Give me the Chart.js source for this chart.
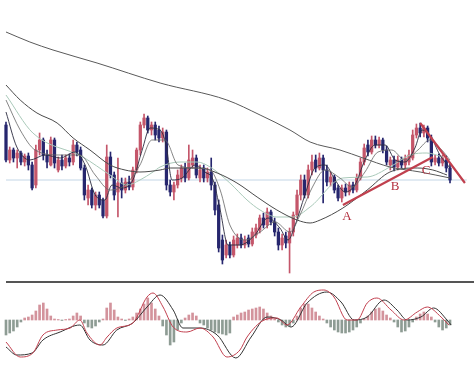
<!DOCTYPE html>
<html>
<head>
<meta charset="utf-8">
<script src="https://cdn.jsdelivr.net/npm/chart.js@4.4.0/dist/chart.umd.min.js"></script>
<style>
body{margin:0;background:#fff;width:474px;height:366px;overflow:hidden}
canvas{display:block}
#sep{margin-left:6px;height:2px;background:#555}
</style>
</head>
<body>
<canvas id="price" width="474" height="281"></canvas>
<div id="sep"></div>
<canvas id="macd" width="474" height="83"></canvas>
<script>
// candles (price units)
const opens = [175,140,150,142,147,138,144,135,115,150, 160,145,135,160,130,140,134,142,138,155,
  150,132,102,110,95,105,100,84,143,125, 108,117,110,118,113,130,150,175,182,170,
  175,170,162,168,115,108,115,122,132,122, 135,142,122,132,122,128,115,95,60,45,
  55,45,55,62,55,62,56,65,70,82, 75,88,78,68,55,64,57,68,85,105,
  120,105,130,140,132,142,130,118,123,112, 102,112,108,115,110,122,138,155,148,160,
  155,160,150,135,140,133,140,135,138,142, 165,172,167,172,162,138,142,137,140,132];
const closes = [140,150,142,147,138,144,135,112,150,160, 145,138,160,137,140,134,142,138,155,148,
  132,105,110,95,105,95,84,143,125,105, 117,110,118,113,130,150,175,182,170,175,
  165,162,168,115,108,115,125,132,122,140, 142,125,130,122,128,115,90,52,40,55,
  45,60,62,55,60,56,68,72,82,75, 88,78,68,55,62,57,68,85,105,120,
  105,130,138,132,142,130,118,123,110,102, 112,108,115,110,122,138,152,148,160,155,
  160,150,138,140,133,140,135,142,145,165, 172,167,172,162,138,142,137,142,132,120];
const highs = [178,153,152,150,149,146,147,138,155,167, 162,150,163,162,143,145,145,146,160,158,
  153,135,115,112,108,108,102,155,148,128, 142,122,122,124,133,152,178,186,184,178,
  178,174,172,170,120,118,130,135,137,155, 150,145,135,135,132,142,118,100,65,60,
  58,64,66,66,64,65,72,76,85,87, 92,90,82,72,66,68,72,88,110,125,
  125,135,145,145,147,145,135,128,125,115, 115,116,118,118,126,142,156,160,164,164,
  163,162,154,143,144,144,143,145,150,170, 176,177,175,174,165,145,146,145,144,136];
const lows = [138,137,138,132,135,134,130,110,112,145, 140,132,134,132,128,130,132,134,135,144,
  130,100,95,92,90,92,82,82,122,100, 83,102,107,110,110,127,145,172,167,165,
  160,158,158,110,104,100,112,118,118,120, 132,122,118,118,118,110,85,48,36,42,
  42,43,52,52,52,53,54,62,67,72, 72,75,64,50,50,52,27,64,82,100,
  102,102,125,128,130,97,114,114,107,99, 98,104,105,107,108,120,135,144,146,152,
  152,147,135,130,129,130,132,132,135,140, 162,163,163,158,134,135,134,134,128,117];

// moving averages: candle index / value
const longIdx = [0,6.4,12.6,24.4,41.3,59.2,68.1,76.1,81.5,89.5,95.7,102.9,111,119];
const longVal = [268,258,250,237,217,200,185,170,158,150,142,133,128,122];
const midIdx = [0,3.8,8.3,13.7,18,22.5,27.9,31.9,35.9,41.3,44,52,56.6,61.9,67.3,72.6,78,81.5,84.2,90.3,96.8,102.9,110.2,114.4,118.2];
const midVal = [215,200,187,177,162,150,135,130,128,130,132,132,127,117,103,90,80,77,80,92,110,128,132,130,125];
const greenIdx = [0,7.2,20.6,27.9,32.4,35.9,39.4,41.3,46.6,51.2,54.7,60,64.6,68.1,72.6,76.9,81.5,90.3,96.8,102.9,108.3,112.8,117.1];
const greenVal = [205,167,143,125,115,120,128,133,138,138,133,117,100,90,83,83,93,122,123,133,145,147,143];
const fastIdx = [0,2.9,6.4,10.5,14.5,18.5,21.2,23.9,26.5,28.4,31.1,34,36.5,38.6,41.3,42.9,44.5,47.2,50.7,53.3,55.5,57.4,59.5,62.7,66.7,70.2,73.4,75.6,77.5,80.1,82.8,85.5,88.2,90.9,93.5,96.2,98.9,101.6,104.3,106.9,109.6,111.5,113.6,116.3,119];
const fastVal = [188,153,140,145,142,148,135,105,100,115,112,120,150,172,170,155,120,122,135,128,120,90,55,55,65,82,72,60,75,105,132,135,120,108,115,140,155,155,140,138,152,170,165,145,132];
const slowIdx = [0,3.8,7.8,14.5,19.8,23.9,27.9,31.9,35.9,39.1,42.6,46.1,50.7,54.7,57.4,60,64.1,68.1,72.1,76.1,78.8,82,85.5,89.5,92.8,96.2,99.7,103.4,106.9,110.4,113.6,116.8,119];
const slowVal = [200,170,150,145,145,125,110,115,135,160,160,135,132,130,110,75,60,68,78,68,85,112,130,122,113,128,148,150,140,150,160,150,140];

const levelLine = 120;
const trendUpIdx = [90.3,114.4];
const trendUpVal = [95,143];
const trendDownIdx = [111,123];
const trendDownVal = [177,117];
const labels = ['A','B','C'];
const labelIdx = [91.4,104.3,112.6];
const labelVal = [83,113,129];

// MACD
const hist = [-15,-13,-11,-7,-2,2,3,5,9,15, 17,11,4,1,0.5,-0.5,0.5,1,4,7,
  4,-3,-7,-8,-6,-2,1,12,17,10, 3,1,-0.5,1,3,7,11,16,22,17,
  11,4,-6,-15,-25,-22,-10,-3,2,5, 7,4,-3,-5,-8,-10,-12,-13,-14,-15,
  -13,3,5,7,8,10,11,12,13,11, 7,4,1,-2,-5,-7,-6,-3,4,12,
  16,16,12,8,4,1,-3,-7,-10,-12, -13,-13,-12,-10,-7,-3,1,4,8,11,
  12,9,5,2,-2,-7,-12,-11,-7,-2, 3,6,8,6,3,-2,-7,-10,-8,-5];
const macdIdx = [0,3.8,7.2,9.9,13.7,17.2,19.8,21.7,25.2,27.1,29.7,34,37.8,39.4,42.1,44.8,48.5,52,55.5,59.2,62.7,64.6,69.2,72.6,75.3,79,82.5,85.2,87.9,91.4,94.1,96.8,99.4,103.2,106.7,110.2,112.9,116.6,118.7];
const macdVal = [-22,-37,-33,-15,-10,-8,0,-13,-25,-17,-8,-3,23,27,13,-7,-12,-8,-17,-37,-30,-17,0,2,-5,13,28,30,23,0,0,17,22,10,0,8,13,3,-5];
const signalIdx = [0,2.9,7,9.9,14.5,19.8,22.5,26,29.7,34,37.8,41.3,44.8,47.4,52,56.6,61.6,65.7,70,73.7,76.4,80.7,86,89.8,93.3,96.8,101.3,104.8,107.5,111.2,114.6,118.2,119.3];
const signalVal = [-27,-35,-33,-20,-12,-5,-20,-25,-10,-3,13,25,10,-8,-8,-15,-38,-17,3,0,-7,17,28,18,0,3,20,10,0,3,12,0,-5];

const UP = '#c4566a';
const DOWN = '#26266e';

function pts(idx, vals){
  return idx.map((x, k) => ({x: x, y: vals[k]}));
}

function line(idx, vals, color, width, order){
  return {
    type: 'line',
    data: pts(idx, vals),
    borderColor: color,
    borderWidth: width,
    pointRadius: 0,
    cubicInterpolationMode: 'monotone',
    order: order
  };
}

const xScale = {type: 'linear', display: false, offset: false, min: -1.608, max: 125.43};

const candleColors = opens.map((o, i) => closes[i] >= o ? UP : DOWN);

const labelPlugin = {
  id: 'abcLabels',
  afterDatasetsDraw(chart){
    const ctx = chart.ctx;
    const x = chart.scales.x, y = chart.scales.y;
    ctx.save();
    ctx.fillStyle = '#b3303f';
    ctx.font = '13px "Liberation Serif"';
    ctx.textAlign = 'center';
    ctx.textBaseline = 'middle';
    labels.forEach((t, k) => {
      ctx.fillText(t, x.getPixelForValue(labelIdx[k]), y.getPixelForValue(labelVal[k]));
    });
    ctx.restore();
  }
};

new Chart(document.getElementById('price'), {
  type: 'bar',
  data: {
    datasets: [
      {
        data: opens.map((o, i) => ({x: i, y: [lows[i], highs[i]]})),
        backgroundColor: candleColors,
        barThickness: 1,
        grouped: false,
        order: 10
      },
      {
        data: opens.map((o, i) => ({x: i, y: [o, closes[i]]})),
        backgroundColor: candleColors,
        barThickness: 2.6,
        minBarLength: 1,
        grouped: false,
        order: 9
      },
      {
        type: 'line',
        data: [{x: 0, y: levelLine}, {x: 123.5, y: levelLine}],
        borderColor: '#c3d6e6',
        borderWidth: 1,
        pointRadius: 0,
        order: 11
      },
      line(longIdx, longVal, '#5a5a5a', 1, 5),
      line(midIdx, midVal, '#4a4a4a', 1, 5),
      line(greenIdx, greenVal, '#a9c9b9', 1, 5),
      line(slowIdx, slowVal, '#666666', 0.8, 4),
      line(fastIdx, fastVal, '#2b2b40', 0.9, 4),
      line(trendUpIdx, trendUpVal, '#c0404e', 2.2, 1),
      line(trendDownIdx, trendDownVal, '#c0404e', 2.2, 1)
    ]
  },
  options: {
    responsive: false,
    devicePixelRatio: 1,
    animation: false,
    layout: {padding: 0},
    plugins: {legend: {display: false}, tooltip: {enabled: false}},
    scales: {
      x: xScale,
      y: {display: false, min: 19, max: 300}
    }
  },
  plugins: [labelPlugin]
});

new Chart(document.getElementById('macd'), {
  type: 'bar',
  data: {
    datasets: [
      {
        data: hist.map((h, i) => ({x: i, y: h})),
        backgroundColor: hist.map(h => h >= 0 ? '#d3939c' : '#8e9c94'),
        barThickness: 2,
        order: 5
      },
      line(macdIdx, macdVal, '#c2404f', 1, 1),
      line(signalIdx, signalVal, '#333333', 1, 2)
    ]
  },
  options: {
    responsive: false,
    devicePixelRatio: 1,
    animation: false,
    layout: {padding: 0},
    plugins: {legend: {display: false}, tooltip: {enabled: false}},
    scales: {
      x: xScale,
      y: {display: false, min: -46, max: 37}
    }
  }
});
</script>
</body>
</html>
